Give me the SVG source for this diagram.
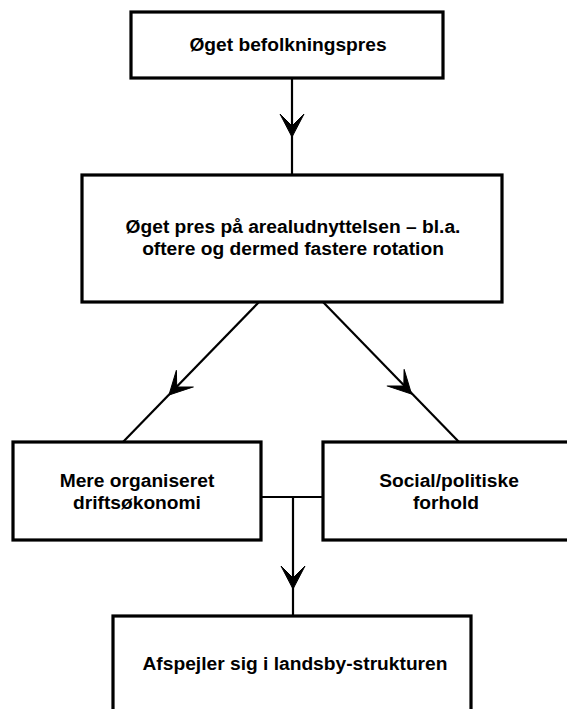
<svg xmlns="http://www.w3.org/2000/svg" xmlns:xlink="http://www.w3.org/1999/xlink" width="567" height="709" viewBox="0 0 567 709">
<style>
.box{fill:#fff;stroke:#000;stroke-width:3.2}
.lbl{font-family:"Liberation Sans",Arial,Helvetica,sans-serif;font-weight:bold;font-size:19.2px;fill:#000;text-anchor:middle}
.con{fill:none;stroke:#000;stroke-width:2.2}
.ah{fill:#000;stroke:#000;stroke-width:1;stroke-linejoin:miter}
</style>
<defs>
<path id="ah" class="ah" d="M0,0 L-12,-23 L0,-11 L12,-23 Z"/>
</defs>
<rect x="0" y="0" width="567" height="709" fill="#fff"/>
<g id="connectors">
<line class="con" x1="292" y1="78" x2="292" y2="175"/>
<use xlink:href="#ah" transform="translate(292,137)"/>
<line class="con" x1="259" y1="302" x2="123" y2="442"/>
<use xlink:href="#ah" transform="translate(169,395) rotate(44.2)"/>
<line class="con" x1="323" y1="302" x2="459" y2="442"/>
<use xlink:href="#ah" transform="translate(411.5,394) rotate(-44.2)"/>
<line class="con" x1="261" y1="497" x2="323" y2="497"/>
<line class="con" x1="293" y1="497" x2="293" y2="616"/>
<use xlink:href="#ah" transform="translate(293,589)"/>
</g>
<g id="node-befolkningspres">
<rect class="box" x="131" y="12" width="312" height="66"/>
<text class="lbl" x="288" y="51">Øget befolkningspres</text>
</g>
<g id="node-arealudnyttelse">
<rect class="box" x="82" y="175" width="420" height="127"/>
<text class="lbl" x="293" y="233">Øget pres på arealudnyttelsen – bl.a.</text>
<text class="lbl" x="293" y="255">oftere og dermed fastere rotation</text>
</g>
<g id="node-driftsoekonomi">
<rect class="box" x="13" y="442" width="248" height="98"/>
<text class="lbl" x="137" y="487">Mere organiseret</text>
<text class="lbl" x="137" y="509">driftsøkonomi</text>
</g>
<g id="node-social">
<rect class="box" x="323" y="442" width="248" height="98"/>
<text class="lbl" x="449" y="487">Social/politiske</text>
<text class="lbl" x="446" y="509">forhold</text>
</g>
<g id="node-landsby">
<rect class="box" x="113" y="616" width="358" height="110"/>
<text class="lbl" x="295" y="670">Afspejler sig i landsby-strukturen</text>
</g>
</svg>
